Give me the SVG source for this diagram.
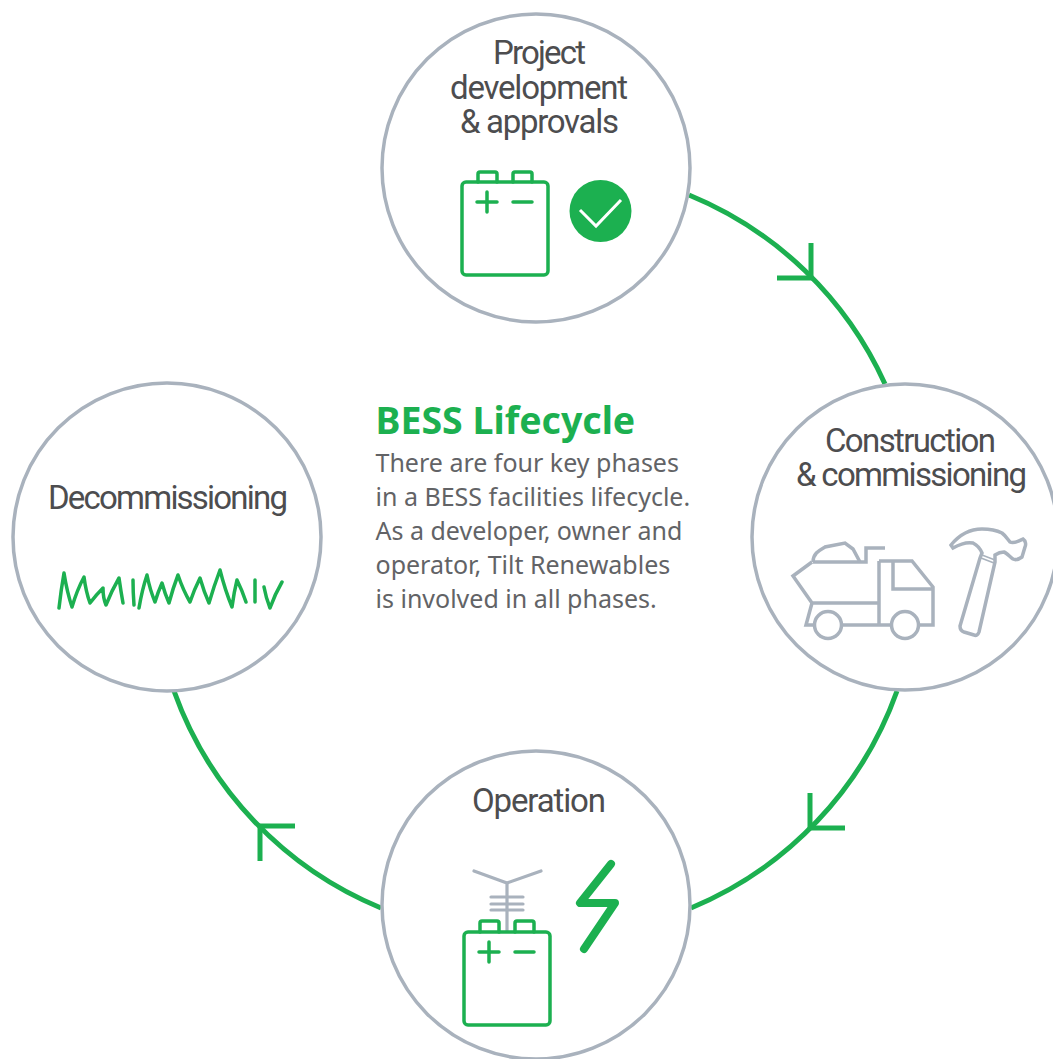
<svg xmlns="http://www.w3.org/2000/svg" width="1053" height="1059" viewBox="0 0 1053 1059">
<style>
.ring{fill:#fff;stroke:#a9b2bd;stroke-width:3.5}
.lbl{font-family:"Roboto","Liberation Sans",sans-serif;font-size:33px;font-weight:400;fill:#4d4d4f;text-anchor:middle;font-stretch:normal}
.g{fill:none;stroke:#1cb050;stroke-width:3.500;stroke-linejoin:round;stroke-linecap:round}
.gy{fill:none;stroke:#a9b2bd;stroke-width:3.500;stroke-linejoin:miter}
.thin{fill:none;stroke:#a9b2bd;stroke-width:1.500}
.body{font-family:"Noto Sans","Open Sans",sans-serif;font-size:25px;fill:#626366}
.conn{fill:none;stroke:#1cb050;stroke-width:5}
</style>
<rect width="1053" height="1059" fill="#fff"/>
<g id="connectors">
<path class="conn" d="M689 195A369 369 0 0 1 885 384"/>
<path class="conn" d="M897 691A369 369 0 0 1 691 908"/>
<path class="conn" d="M381 908A369 369 0 0 1 174 691"/>
<path class="conn" d="M811 243V278H777"/>
<path class="conn" d="M810 793V828H845"/>
<path class="conn" d="M295 826H260V861"/>
</g>
<g id="project">
<circle class="ring" cx="536" cy="168" r="154"/>
<text class="lbl" x="539.500" y="64" textLength="93">Project</text>
<text class="lbl" x="539" y="99" textLength="178">development</text>
<text class="lbl" x="539.500" y="133" textLength="159">&amp; approvals</text>
<rect class="g" x="462" y="182" width="86" height="93" rx="4"/>
<path class="g" d="M478 182V174a2 2 0 0 1 2-2H495a2 2 0 0 1 2 2V182M513 182V174a2 2 0 0 1 2-2H530a2 2 0 0 1 2 2V182M477 202H497M487 192V212M513 202H532"/>
<circle cx="600.500" cy="211" r="31" fill="#1cb050"/>
<path d="M580 210L596 226L621 200" fill="none" stroke="#fff" stroke-width="3"/>
</g>
<g id="construction">
<circle class="ring" cx="905" cy="537" r="153"/>
<text class="lbl" x="910.500" y="452" textLength="171">Construction</text>
<text class="lbl" x="911.500" y="486" textLength="231">&amp; commissioning</text>
<path class="gy" d="M813 562H866V548H885M812 562L793 576L812 603H879M879 561V625M879 561H912L933 587V625H920M893 561V589H933M812 603L806 625H814M842 625H891"/>
<path class="gy" d="M813 562C813 553 820 550 825 547L845 543L853 549L860 562"/>
<circle class="gy" cx="828" cy="625" r="13.500"/>
<circle class="gy" cx="905" cy="625" r="13.500"/>
<path class="gy" stroke-linejoin="round" d="M953 548L951 545C960 534 970 529 982 529C992 529 998 531 1002 533C1006 536 1008 540 1010 542C1014 544 1019 541 1023 539C1026 541 1026 545 1025 547L1022 557C1018 560 1015 560 1013 559C1010 557 1007 553 1004 552C1001 552 998 553 995 555V562L979 632C978 635 976 636 974 635L964 632C961 631 960 629 960 626L980 558L982 553C980 548 977 545 973 543C968 542 960 544 953 548Z"/>
<path class="thin" d="M982 555L995 560M981 558L994 563"/>
</g>
<g id="operation">
<circle class="ring" cx="536" cy="905" r="154"/>
<text class="lbl" x="539" y="812" textLength="134">Operation</text>
<path fill="none" stroke="#a9b2bd" stroke-width="3.200" stroke-linecap="round" d="M474 871L507 883L541 871M507 883V931M491 897H523M491 904H523M491 910H523"/>
<rect class="g" x="464" y="932" width="86" height="93" rx="4"/>
<path class="g" d="M480 932V923a2 2 0 0 1 2-2H497a2 2 0 0 1 2 2V932M515 932V923a2 2 0 0 1 2-2H532a2 2 0 0 1 2 2V932M479 952H499M489 942V962M515 952H534"/>
<path d="M611 864L580 903H615L584 949" fill="none" stroke="#1cb050" stroke-width="8" stroke-linecap="round" stroke-linejoin="round"/>
</g>
<g id="decommissioning">
<circle class="ring" cx="167" cy="537" r="154"/>
<text class="lbl" x="168" y="509" textLength="240">Decommissioning</text>
<path class="g" d="M59 608Q61 590 64 573Q67 592 72 607Q77 590 84 577Q86 592 90 603Q96 595 103 588Q103 598 106 605Q112 590 119 578Q121 592 123 603M133 580Q133 592 134 605M139 608Q142 590 147 575Q150 590 155 602Q158 592 162 583Q165 594 169 603Q173 588 178 575Q183 590 190 602Q194 590 200 578Q204 592 209 603Q214 586 220 570Q225 590 232 607Q234 592 237 580Q242 590 246 602M255 580V602M264 587Q266 598 270 608Q275 594 282 582"/>
</g>
<g id="center">
<text x="375.500" y="434" font-family="Noto Sans,Open Sans,sans-serif" font-size="37.500" font-weight="700" fill="#1cb050">BESS Lifecycle</text>
<text class="body" x="375.500" y="472">There are four key phases</text>
<text class="body" x="375.500" y="506">in a BESS facilities lifecycle.</text>
<text class="body" x="375.500" y="540">As a developer, owner and</text>
<text class="body" x="375.500" y="574">operator, Tilt Renewables</text>
<text class="body" x="375.500" y="608">is involved in all phases.</text>
</g>
</svg>
